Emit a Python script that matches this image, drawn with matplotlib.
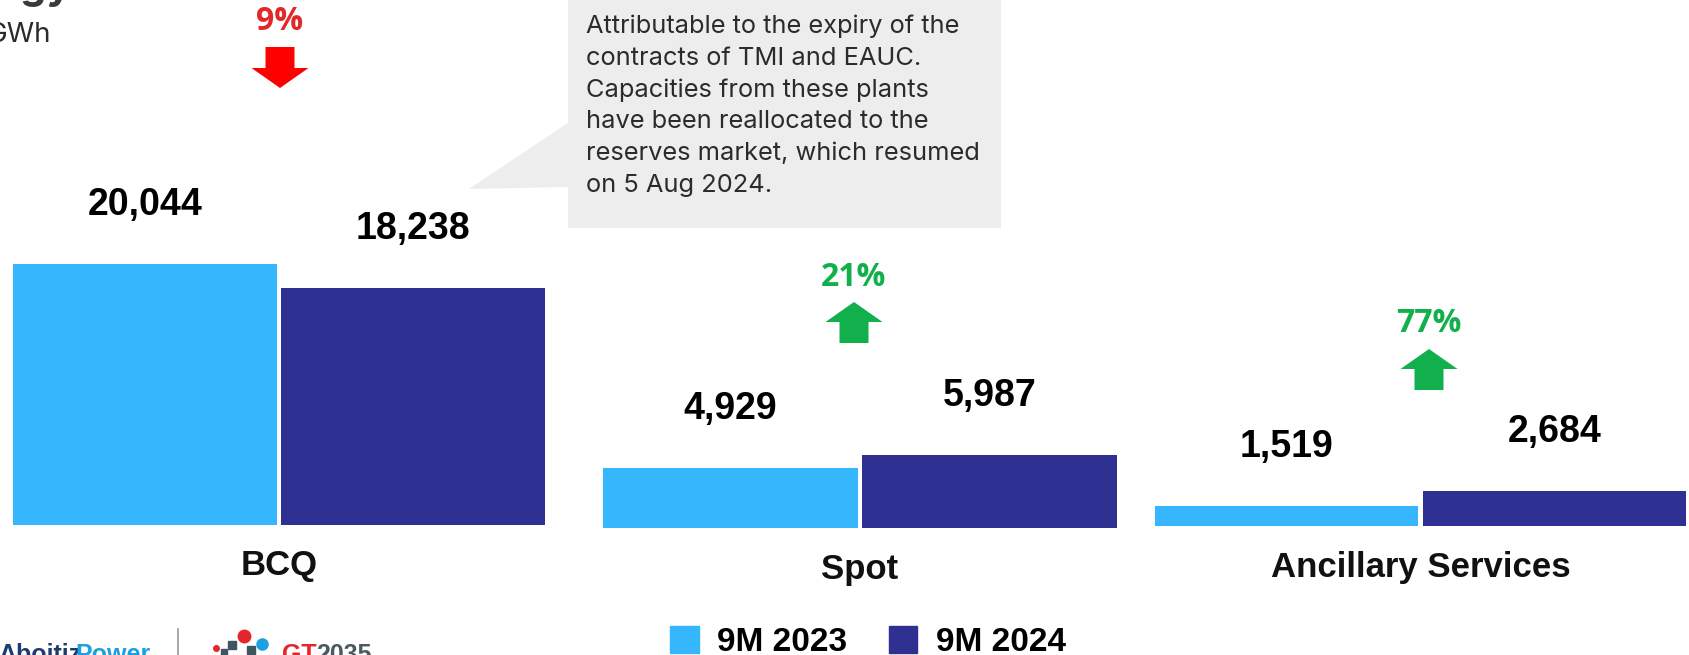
import matplotlib
matplotlib.use("Agg")
import matplotlib.pyplot as plt
from matplotlib.patches import Polygon, Rectangle
from matplotlib.transforms import Affine2D

# data
categories = ["BCQ", "Spot", "Ancillary Services"]
series_names = ["9M 2023", "9M 2024"]
values_2023 = [20044, 4929, 1519]
values_2024 = [18238, 5987, 2684]
pct_change = ["9%", "21%", "77%"]
pct_up = [False, True, True]
note_lines = [
    "Attributable to the expiry of the",
    "contracts of TMI and EAUC.",
    "Capacities from these plants",
    "have been reallocated to the",
    "reserves market, which resumed",
    "on 5 Aug 2024.",
]

W, H = 1690, 655
light, dark = "#35B6FD", "#2E3192"
red_txt, red_arrow = "#E3262A", "#FF0000"
green = "#12B04C"
num_font = ["Liberation Sans", "DejaVu Sans"]

fig = plt.figure(figsize=(W / 100, H / 100), dpi=100)
fig.patch.set_facecolor("white")
# pixel coords, origin top-left
T = Affine2D().scale(1, -1).translate(0, H)

# three small panels (left, right, baseline, px per GWh)
panels = [(10.8, 547.5, 525, 0.01302), (601, 1119, 528, 0.01225), (1153, 1688, 526, 0.01302)]
ax_h = 300
for i, (x0, x1, base, scale) in enumerate(panels):
    ax = fig.add_axes([x0 / W, (H - base) / H, (x1 - x0) / W, ax_h / H])
    ax.set_xlim(-0.5, 1.5)
    ax.set_ylim(0, ax_h / scale)
    ax.axis("off")
    vals = [values_2023[i], values_2024[i]]
    ax.bar([0, 1], vals, width=0.985, color=[light, dark])
    for x, v in zip([0, 1], vals):
        ax.annotate(f"{v:,}", xy=(x, v), xytext=(0, 59 * 0.72), textcoords="offset points",
                    ha="center", va="center", fontsize=27, fontweight="bold",
                    family=num_font, color="black")
    ax.annotate(categories[i], xy=(0.5, 0), xycoords="axes fraction",
                xytext=(0, -41 * 0.72), textcoords="offset points",
                ha="center", va="center", fontsize=25, fontweight="bold",
                family=num_font, color="#111111", annotation_clip=False)

# change labels with arrows
pct_pos = [(280, 22, 47), (854, 277, 302), (1429, 324, 349)]
for (cx, ty, atop), s, up in zip(pct_pos, pct_change, pct_up):
    col_t = green if up else red_txt
    col_a = green if up else red_arrow
    fig.text(cx, ty, s, transform=T, ha="center", va="center", fontsize=23,
             fontweight="bold", family=["Open Sans", "DejaVu Sans"], color=col_t)
    hw, sw, hl, h = 28.5, 14.5, 20, 41
    if up:
        pts = [(cx, atop), (cx + hw, atop + hl), (cx + sw, atop + hl), (cx + sw, atop + h),
               (cx - sw, atop + h), (cx - sw, atop + hl), (cx - hw, atop + hl)]
    else:
        pts = [(cx, atop + h), (cx + hw, atop + h - hl), (cx + sw, atop + h - hl), (cx + sw, atop),
               (cx - sw, atop), (cx - sw, atop + h - hl), (cx - hw, atop + h - hl)]
    fig.add_artist(Polygon(pts, closed=True, facecolor=col_a, edgecolor="none", transform=T))

# callout box
fig.add_artist(Polygon([(568, -5), (1001, -5), (1001, 228), (568, 228), (568, 187),
                        (469, 189), (568, 123)], closed=True,
                       facecolor="#EDEDED", edgecolor="none", transform=T))
for k, line in enumerate(note_lines):
    fig.text(586, 33 + k * 31.8, line, transform=T, ha="left", va="baseline",
             fontsize=18.3, family=["Inter", "DejaVu Sans"], color="#2B2B2B")

# cropped slide header
fig.text(72, -1, "Energy", transform=T, ha="right", va="baseline", fontsize=30,
         fontweight="bold", family=["Inter", "DejaVu Sans"], color="#3A3A3A")
fig.text(51, 35, "GWh", transform=T, ha="right", va="center", fontsize=20,
         family=["Inter", "DejaVu Sans"], color="#2B2B2B")

# legend
handles = [Rectangle((0, 0), 1, 1, color=c) for c in (light, dark)]
fig.legend(handles, series_names, loc="center", bbox_to_anchor=(868 / W, (H - 642) / H),
           ncol=2, frameon=False, prop={"family": num_font, "weight": "bold", "size": 24},
           handlelength=0.85, handleheight=0.85, handletextpad=0.55, columnspacing=1.25,
           borderpad=0)

# footer logos (cropped)
fig.text(-2, 643, "Aboitiz", transform=T, ha="left", va="top", fontsize=18,
         fontweight="bold", family=num_font, color="#1F3A6E")
fig.text(75, 643, "Power", transform=T, ha="left", va="top", fontsize=18,
         fontweight="bold", family=num_font, color="#1BA1E2")
fig.add_artist(plt.Line2D([178, 178], [629, 660], color="#9A9A9A", lw=1.2, transform=T))
for (dx, dy, c, s) in [(216, 648, "#E3262A", 4), (224, 652, "#3F5660", 4), (232, 645, "#3F5660", 6),
                       (244, 636, "#E3262A", 9), (251, 650, "#3F5660", 6), (262, 644, "#1BA1E2", 8)]:
    fig.add_artist(plt.Line2D([dx], [dy], marker="s" if c == "#3F5660" else "o", ms=s,
                              color=c, transform=T))
fig.text(282, 643, "GT", transform=T, ha="left", va="top", fontsize=18,
         fontweight="bold", family=num_font, color="#E3262A")
fig.text(316, 643, "2035", transform=T, ha="left", va="top", fontsize=18,
         fontweight="bold", family=num_font, color="#4A5A60")

fig.savefig("out.png", dpi=100, facecolor="white")
